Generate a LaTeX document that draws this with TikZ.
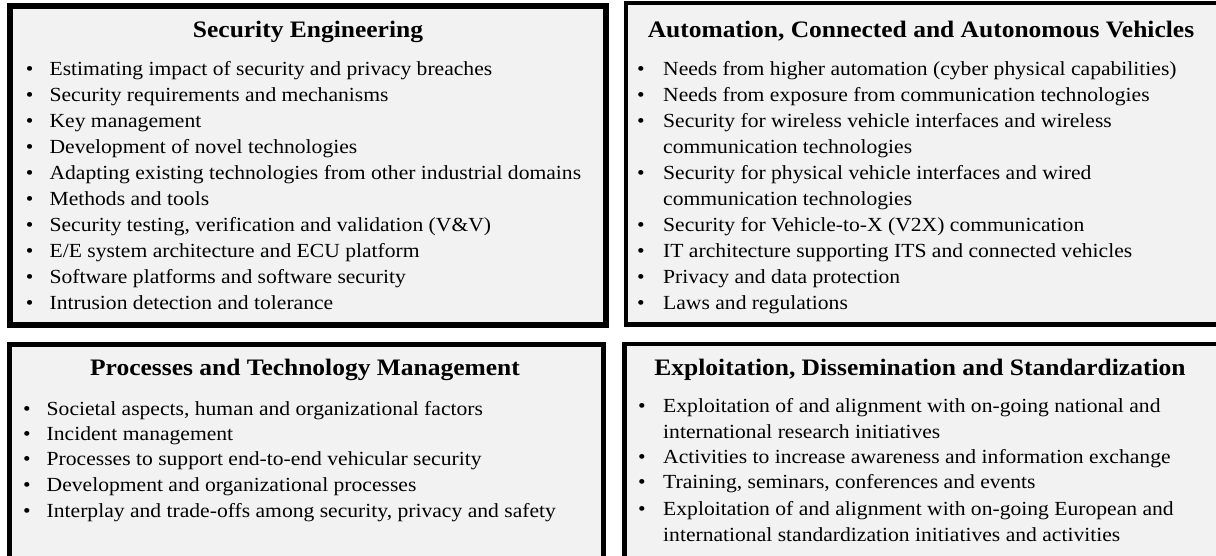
\documentclass[tikz,border=0pt]{standalone}
\usepackage{fontspec}
\setmainfont[FakeStretch=1.08]{Liberation Serif}
\usepackage{tikz}
\definecolor{boxgray}{RGB}{242,242,242}
\newcommand{\itemfont}{\fontsize{20}{24}\selectfont}
\newcommand{\headfont}{\fontsize{23.6}{28}\selectfont\bfseries}

\begin{document}
\begin{tikzpicture}[x=1pt,y=-1pt,
	boxframe/.style={draw=black,fill=boxgray},
	headtext/.style={anchor=base,inner sep=0pt,font=\headfont},
	itemtext/.style={anchor=base west,inner sep=0pt,font=\itemfont},
	dotmark/.style={anchor=base,inner sep=0pt,font=\itemfont}]
		\useasboundingbox (0,0) rectangle (1216,555);
		\clip (0,0) rectangle (1216,555);
		% frames
		\draw [boxframe,line width=6pt] (10,5.5) rectangle (606,325);
		\draw [boxframe,line width=4.5pt] (626,3) rectangle (1220,324.7);
		\draw [boxframe,line width=5pt] (9.7,344) rectangle (603,560);
		\draw [boxframe,line width=4.5pt] (624.7,344) rectangle (1220,560);
		% security engineering
			\node [headtext] (se) at (308,37) {Security Engineering};
				\node [dotmark] (se-b1) at (29.6,75) {•};
				\node [itemtext] (se-1) at (49.4,75) {Estimating impact of security and privacy breaches};
				\node [dotmark] (se-b2) at (29.6,101) {•};
				\node [itemtext] (se-2) at (49.4,101) {Security requirements and mechanisms};
				\node [dotmark] (se-b3) at (29.6,127) {•};
				\node [itemtext] (se-3) at (49.4,127) {Key management};
				\node [dotmark] (se-b4) at (29.6,153) {•};
				\node [itemtext] (se-4) at (49.4,153) {Development of novel technologies};
				\node [dotmark] (se-b5) at (29.6,179) {•};
				\node [itemtext] (se-5) at (49.4,179) {Adapting existing technologies from other industrial domains};
				\node [dotmark] (se-b6) at (29.6,205) {•};
				\node [itemtext] (se-6) at (49.4,205) {Methods and tools};
				\node [dotmark] (se-b7) at (29.6,231) {•};
				\node [itemtext] (se-7) at (49.4,231) {Security testing, verification and validation (V\&V)};
				\node [dotmark] (se-b8) at (29.6,257) {•};
				\node [itemtext] (se-8) at (49.4,257) {E/E system architecture and ECU platform};
				\node [dotmark] (se-b9) at (29.6,283) {•};
				\node [itemtext] (se-9) at (49.4,283) {Software platforms and software security};
				\node [dotmark] (se-b10) at (29.6,309) {•};
				\node [itemtext] (se-10) at (49.4,309) {Intrusion detection and tolerance};
		% vehicles
			\node [headtext] (cav) at (921,37) {Automation, Connected and Autonomous Vehicles};
				\node [dotmark] (cav-b1) at (641,75) {•};
				\node [itemtext] (cav-1) at (663,75) {Needs from higher automation (cyber physical capabilities)};
				\node [dotmark] (cav-b2) at (641,101) {•};
				\node [itemtext] (cav-2) at (663,101) {Needs from exposure from communication technologies};
				\node [dotmark] (cav-b3) at (641,127) {•};
				\node [itemtext] (cav-3) at (663,127) {Security for wireless vehicle interfaces and wireless};
				\node [itemtext] (cav-3b) at (663,153) {communication technologies};
				\node [dotmark] (cav-b4) at (641,179) {•};
				\node [itemtext] (cav-4) at (663,179) {Security for physical vehicle interfaces and wired};
				\node [itemtext] (cav-4b) at (663,205) {communication technologies};
				\node [dotmark] (cav-b5) at (641,231) {•};
				\node [itemtext] (cav-5) at (663,231) {Security for Vehicle-to-X (V2X) communication};
				\node [dotmark] (cav-b6) at (641,257) {•};
				\node [itemtext] (cav-6) at (663,257) {IT architecture supporting ITS and connected vehicles};
				\node [dotmark] (cav-b7) at (641,283) {•};
				\node [itemtext] (cav-7) at (663,283) {Privacy and data protection};
				\node [dotmark] (cav-b8) at (641,309) {•};
				\node [itemtext] (cav-8) at (663,309) {Laws and regulations};
		% processes
			\node [headtext] (ptm) at (305,375) {Processes and Technology Management};
				\node [dotmark] (ptm-b1) at (27,415.5) {•};
				\node [itemtext] (ptm-1) at (46.5,415.5) {Societal aspects, human and organizational factors};
				\node [dotmark] (ptm-b2) at (27,440.5) {•};
				\node [itemtext] (ptm-2) at (46.5,440.5) {Incident management};
				\node [dotmark] (ptm-b3) at (27,465.5) {•};
				\node [itemtext] (ptm-3) at (46.5,465.5) {Processes to support end-to-end vehicular security};
				\node [dotmark] (ptm-b4) at (27,491.5) {•};
				\node [itemtext] (ptm-4) at (46.5,491.5) {Development and organizational processes};
				\node [dotmark] (ptm-b5) at (27,517.5) {•};
				\node [itemtext] (ptm-5) at (46.5,517.5) {Interplay and trade-offs among security, privacy and safety};
		% exploitation
			\node [headtext] (eds) at (920,375) {Exploitation, Dissemination and Standardization};
				\node [dotmark] (eds-b1) at (642,412.5) {•};
				\node [itemtext] (eds-1) at (663,412.5) {Exploitation of and alignment with on-going national and};
				\node [itemtext] (eds-1b) at (663,438.5) {international research initiatives};
				\node [dotmark] (eds-b2) at (642,463.5) {•};
				\node [itemtext] (eds-2) at (663,463.5) {Activities to increase awareness and information exchange};
				\node [dotmark] (eds-b3) at (642,488.5) {•};
				\node [itemtext] (eds-3) at (663,488.5) {Training, seminars, conferences and events};
				\node [dotmark] (eds-b4) at (642,515.5) {•};
				\node [itemtext] (eds-4) at (663,515.5) {Exploitation of and alignment with on-going European and};
				\node [itemtext] (eds-4b) at (663,541.5) {international standardization initiatives and activities};
\end{tikzpicture}
\end{document}
